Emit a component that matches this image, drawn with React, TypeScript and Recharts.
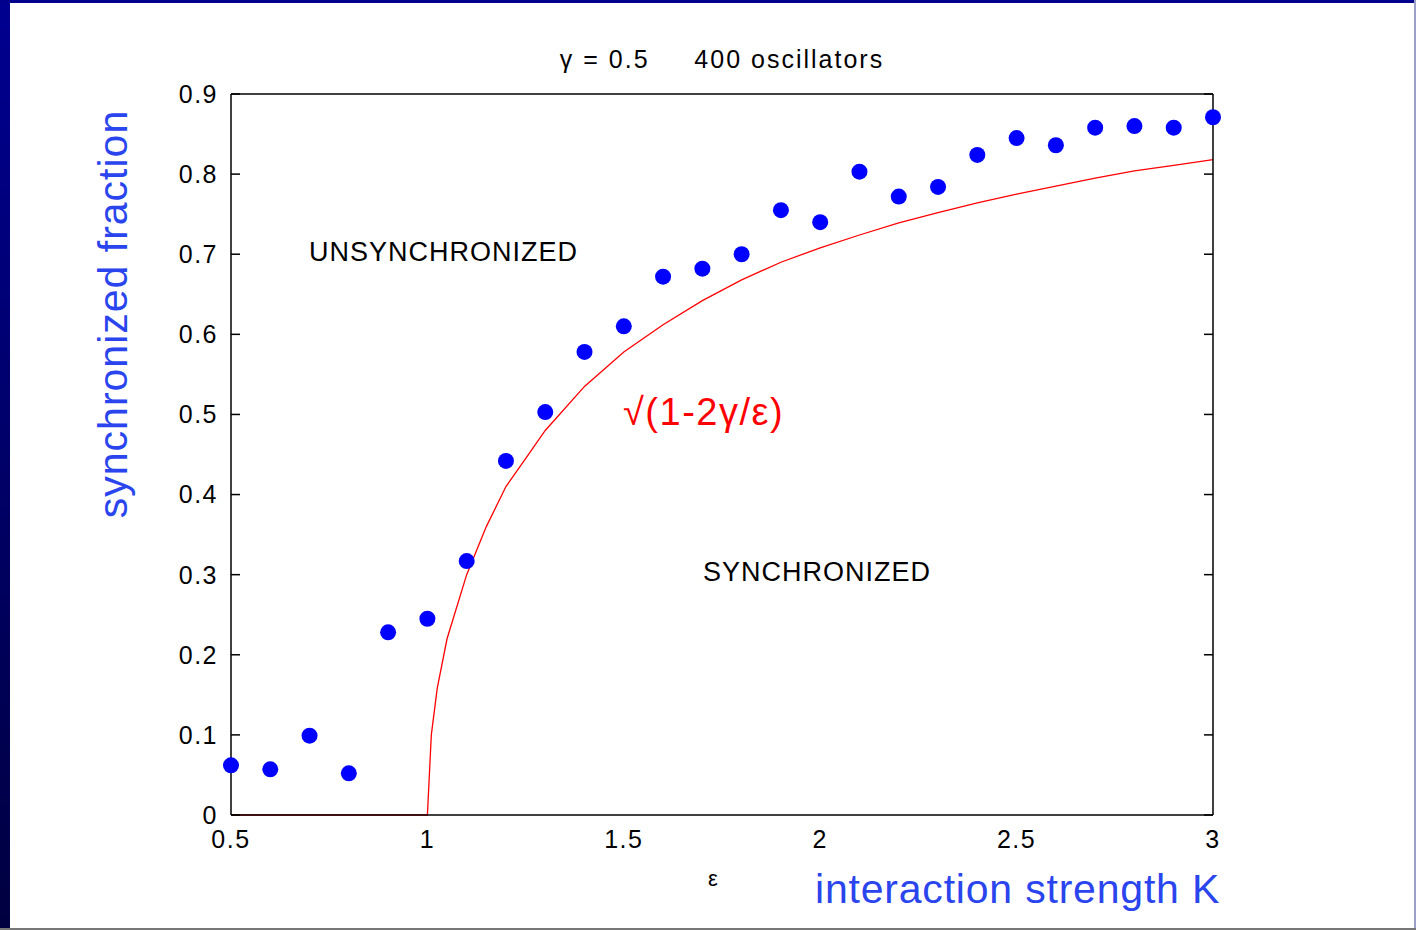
import { ComposedChart, Scatter, Line, XAxis, YAxis } from 'recharts'

// simulation results, 400 oscillators, gamma = 0.5
const couplingK = [0.5, 0.6, 0.7, 0.8, 0.9, 1.0, 1.1, 1.2, 1.3, 1.4, 1.5, 1.6, 1.7, 1.8, 1.9, 2.0, 2.1, 2.2, 2.3, 2.4, 2.5, 2.6, 2.7, 2.8, 2.9, 3.0]
const syncFraction = [0.062, 0.057, 0.099, 0.052, 0.228, 0.245, 0.317, 0.442, 0.503, 0.578, 0.61, 0.672, 0.682, 0.7, 0.755, 0.74, 0.803, 0.772, 0.784, 0.824, 0.845, 0.836, 0.858, 0.86, 0.858, 0.871]

// theory curve
const theoryK = [0.5, 0.6, 0.7, 0.8, 0.9, 1.0, 1.01, 1.025, 1.05, 1.1, 1.15, 1.2, 1.25, 1.3, 1.4, 1.5, 1.6, 1.7, 1.8, 1.9, 2.0, 2.1, 2.2, 2.3, 2.4, 2.5, 2.6, 2.7, 2.8, 2.9, 3.0]
const theoryR = [0, 0, 0, 0, 0, 0, 0.1, 0.158, 0.22, 0.3, 0.36, 0.41, 0.445, 0.48, 0.535, 0.578, 0.612, 0.642, 0.668, 0.69, 0.708, 0.724, 0.739, 0.752, 0.764, 0.775, 0.785, 0.795, 0.804, 0.811, 0.818]

const xTicks = [0.5, 1, 1.5, 2, 2.5, 3]
const yTicks = [0, 0.1, 0.2, 0.3, 0.4, 0.5, 0.6, 0.7, 0.8, 0.9]

const points = couplingK.map((k, i) => ({ k, r: syncFraction[i] }))
const curve = theoryK.map((k, i) => ({ k, r: theoryR[i] }))

const FONT = '"Liberation Sans", Arial, Helvetica, sans-serif'
const LABEL_BLUE = '#2a45ee'
const tickStyle = { fontSize: 25, fill: '#000', fontFamily: FONT, letterSpacing: 1.5 }
const axisStroke = { stroke: '#000', strokeWidth: 1.5 }
const noLabel = () => <g />

export default function App() {
  return (
    <div style={{ position: 'absolute', left: 0, top: 0, width: 1416, height: 930, background: '#fff', fontFamily: FONT, overflow: 'hidden' }}>
      {/* slide frame */}
      <div style={{ position: 'absolute', left: 0, top: 0, width: 10, height: 930, background: 'linear-gradient(#000090, #000040)' }} />
      <div style={{ position: 'absolute', left: 0, top: 0, width: 1416, height: 3, background: '#00008c' }} />
      <div style={{ position: 'absolute', left: 1414, top: 0, width: 2, height: 930, background: '#9aa0c8' }} />
      <div style={{ position: 'absolute', left: 0, top: 928, width: 1416, height: 2, background: '#777' }} />

      <ComposedChart width={1416} height={930} margin={{ top: 94, right: 203, bottom: 85, left: 171 }}>
        <XAxis xAxisId="b" dataKey="k" type="number" domain={[0.5, 3]} ticks={xTicks} fontSize={25}
          tickLine={false} axisLine={axisStroke} tick={tickStyle} height={30} tickMargin={9} />
        <XAxis xAxisId="bt" type="number" domain={[0.5, 3]} ticks={xTicks} allowDataOverflow mirror tick={noLabel} tickSize={9}
          axisLine={false} tickLine={axisStroke} />
        <XAxis xAxisId="t" orientation="top" type="number" domain={[0.5, 3]} ticks={xTicks} allowDataOverflow mirror tick={noLabel} tickSize={9}
          axisLine={axisStroke} tickLine={axisStroke} />
        <YAxis yAxisId="l" type="number" domain={[0, 0.9]} ticks={yTicks} fontSize={25}
          tickLine={false} axisLine={axisStroke} tick={tickStyle} width={60} tickMargin={7} />
        <YAxis yAxisId="lt" type="number" domain={[0, 0.9]} ticks={yTicks} allowDataOverflow mirror tick={noLabel} tickSize={9}
          axisLine={false} tickLine={axisStroke} />
        <YAxis yAxisId="r" orientation="right" type="number" domain={[0, 0.9]} ticks={yTicks} allowDataOverflow mirror tick={noLabel} tickSize={9}
          axisLine={axisStroke} tickLine={axisStroke} />
        <Line xAxisId="b" yAxisId="l" data={curve} dataKey="r" type="linear" stroke="#ff0000" strokeWidth={1.3}
          dot={false} isAnimationActive={false} />
        <Scatter xAxisId="b" yAxisId="l" data={points} dataKey="r" fill="#0000ff" isAnimationActive={false}
          shape={(p: any) => <circle cx={p.cx} cy={p.cy} r={8} fill="#0000ff" />} />
      </ComposedChart>

      <div style={{ position: 'absolute', left: 0, top: 45, width: 1444, textAlign: 'center', fontSize: 25, letterSpacing: 2, color: '#000', whiteSpace: 'pre' }}>
        {'γ = 0.5     400 oscillators'}
      </div>
      <div style={{ position: 'absolute', left: 113, top: 314, transform: 'translate(-50%, -50%) rotate(-90deg)', fontSize: 41, letterSpacing: 1, color: LABEL_BLUE, whiteSpace: 'nowrap' }}>
        synchronized fraction
      </div>
      <div style={{ position: 'absolute', left: 815, top: 866, fontSize: 41, letterSpacing: 0.8, color: LABEL_BLUE, whiteSpace: 'nowrap' }}>
        interaction strength K
      </div>
      <div style={{ position: 'absolute', left: 708, top: 866, fontSize: 22, color: '#000' }}>ε</div>
      <div style={{ position: 'absolute', left: 309, top: 237, fontSize: 27, letterSpacing: 1, color: '#000', whiteSpace: 'nowrap' }}>UNSYNCHRONIZED</div>
      <div style={{ position: 'absolute', left: 703, top: 557, fontSize: 27, letterSpacing: 1, color: '#000', whiteSpace: 'nowrap' }}>SYNCHRONIZED</div>
      <div style={{ position: 'absolute', left: 623, top: 391, fontSize: 38, letterSpacing: 1.5, color: '#ff0000', whiteSpace: 'nowrap' }}>√(1-2γ/ε)</div>
    </div>
  )
}
